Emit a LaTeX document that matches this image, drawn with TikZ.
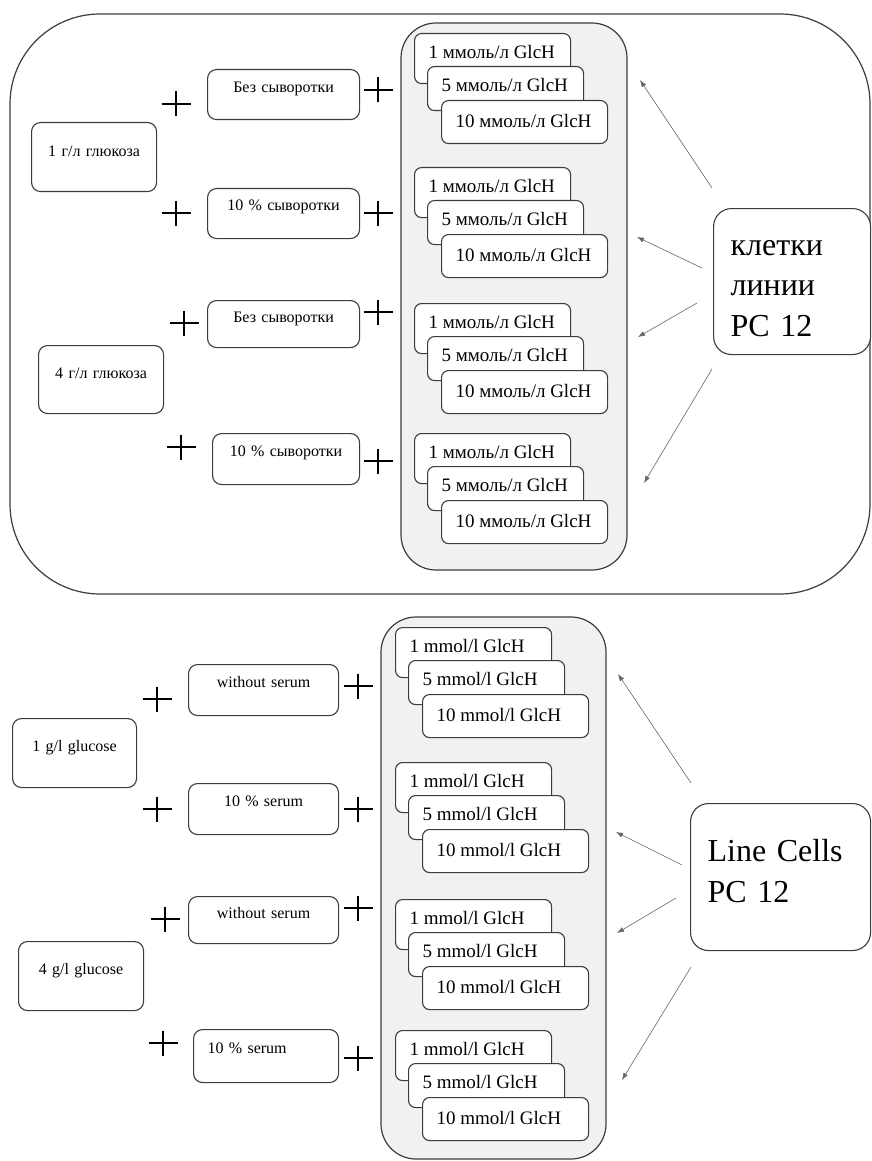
\documentclass[tikz,border=0pt]{standalone}
\usepackage{fontspec}
\setmainfont{Liberation Serif}
\usetikzlibrary{arrows.meta}
\definecolor{edge}{HTML}{3C3C3C}
\definecolor{panel}{HTML}{F1F1F1}
\definecolor{arrowc}{HTML}{666666}
\newcommand\fs[1]{\fontsize{#1}{#1}\selectfont}
\newcommand\glstack[4]{%
  \node[gbox, text height=25pt, text depth=25pt] (#1a) at (#2,#3) {\makebox[128pt][l]{1 #4 GlcH}};
  \node[gbox, text height=25pt, text depth=19pt] (#1b) at ({#2+13},{#3+33}) {\makebox[128pt][l]{5 #4 GlcH}};
  \node[gbox, text height=27pt, text depth=16pt] (#1c) at ({#2+27},{#3+67}) {\makebox[138pt][l]{10 #4 GlcH}};
}
\begin{document}
\begin{tikzpicture}[x=1pt,y=-1pt,
  frame/.style={draw=edge, line width=1.2pt},
  gbox/.style={draw=edge, line width=1.1pt, fill=white, rounded corners=7pt, anchor=north west, inner xsep=14pt, inner ysep=0pt, font=\fs{19}},
  lbox/.style={draw=edge, line width=1.1pt, fill=white, rounded corners=9pt, anchor=north west, inner xsep=0pt, inner ysep=0pt, align=center, font=\fs{16}},
  bigbox/.style={draw=edge, line width=1.1pt, fill=white, rounded corners=18pt, anchor=north west, inner ysep=0pt, align=left, font=\fontsize{32}{40.5}\selectfont},
  arr/.style={draw=arrowc, line width=0.6pt, -{Latex[length=7pt,width=5pt]}},
  plussign/.pic={\draw[line width=1.7pt, black] (-14.5,0)--(14.5,0) (0,-12.5)--(0,12.5);}
]
\useasboundingbox (0,0) rectangle (872,1161);

% ---------- top panel ----------
\draw[frame, rounded corners=90pt] (10,14) rectangle (870,594);
\draw[frame, fill=panel, rounded corners=35pt] (401,23) rectangle (627,570);

\node[lbox, text width=125pt, text height=34pt, text depth=35pt] (g1) at (31,122) {1 г/л глюкоза};
\node[lbox, text width=152pt, text height=23pt, text depth=27pt] (s1) at (207,69) {Без сыворотки};
\node[lbox, text width=152pt, text height=22pt, text depth=28pt] (s2) at (207,188) {10 \% сыворотки};
\node[lbox, text width=152pt, text height=22pt, text depth=25pt] (s3) at (207,300) {Без сыворотки};
\node[lbox, text width=125pt, text height=33pt, text depth=35pt] (g2) at (38,345) {4 г/л глюкоза};
\node[lbox, text width=147pt, text height=23pt, text depth=28pt] (s4) at (212,433) {10 \% сыворотки};

\pic at (176,104) {plussign};
\pic at (378,90) {plussign};
\pic at (176,213) {plussign};
\pic at (378,213) {plussign};
\pic at (184,323) {plussign};
\pic at (378,312) {plussign};
\pic at (181,447) {plussign};
\pic at (378,461) {plussign};

\glstack{ta}{414}{33}{ммоль/л}
\glstack{tb}{414}{167}{ммоль/л}
\glstack{tc}{414}{303}{ммоль/л}
\glstack{td}{414}{433}{ммоль/л}

\node[bigbox, minimum width=157pt, minimum height=146pt, text width=123pt, inner xsep=17pt] (cells1) at (713,208) {\strut клетки\\линии\\PC 12};

\coordinate (t1s) at (712,188); \coordinate (t1e) at (640,80);
\coordinate (t2s) at (702,268); \coordinate (t2e) at (637,237);
\coordinate (t3s) at (697,303); \coordinate (t3e) at (638,337);
\coordinate (t4s) at (712,369); \coordinate (t4e) at (644,483);
\draw[arr] (t1s) -- (t1e);
\draw[arr] (t2s) -- (t2e);
\draw[arr] (t3s) -- (t3e);
\draw[arr] (t4s) -- (t4e);

% ---------- bottom panel ----------
\draw[frame, fill=panel, rounded corners=35pt] (381,617) rectangle (606,1159);

\node[lbox, text width=124pt, text height=33pt, text depth=36pt] (e1) at (12,718) {1 g/l glucose};
\node[lbox, text width=150pt, text height=23pt, text depth=28pt] (w1) at (188,664) {without serum};
\node[lbox, text width=150pt, text height=23pt, text depth=28pt] (w2) at (188,783) {10 \% serum};
\node[lbox, text width=150pt, text height=22pt, text depth=25pt] (w3) at (188,896) {without serum};
\node[lbox, text width=125pt, text height=33pt, text depth=36pt] (e2) at (18,941) {4 g/l glucose};
\node[lbox, align=left, inner xsep=14pt, text width=117pt, text height=24pt, text depth=29pt] (w4) at (193,1029) {10 \% serum};

\pic at (157,699) {plussign};
\pic at (358,686) {plussign};
\pic at (157,809) {plussign};
\pic at (358,809) {plussign};
\pic at (165,919) {plussign};
\pic at (358,908) {plussign};
\pic at (163,1043) {plussign};
\pic at (358,1058) {plussign};

\glstack{ba}{395}{627}{mmol/l}
\glstack{bb}{395}{762}{mmol/l}
\glstack{bc}{395}{899}{mmol/l}
\glstack{bd}{395}{1030}{mmol/l}

\node[bigbox, minimum width=180pt, minimum height=147pt, text width=146pt, inner xsep=17pt] (cells2) at (690,803) {Line Cells\\PC 12\strut};

\coordinate (b1s) at (691,783); \coordinate (b1e) at (618,674);
\coordinate (b2s) at (682,865); \coordinate (b2e) at (616,832);
\coordinate (b3s) at (676,898); \coordinate (b3e) at (617,933);
\coordinate (b4s) at (691,967); \coordinate (b4e) at (622,1080);
\draw[arr] (b1s) -- (b1e);
\draw[arr] (b2s) -- (b2e);
\draw[arr] (b3s) -- (b3e);
\draw[arr] (b4s) -- (b4e);
\end{tikzpicture}
\end{document}
